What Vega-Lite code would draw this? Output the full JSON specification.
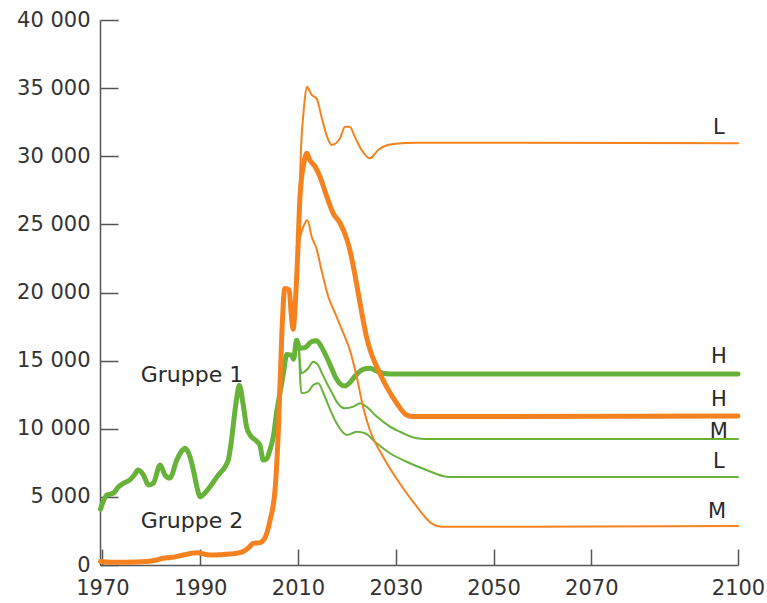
{
  "$schema": "https://vega.github.io/schema/vega-lite/v6.json",
  "width": 638,
  "height": 545,
  "autosize": {"type": "none"},
  "padding": {"left": 100, "top": 20, "right": 29, "bottom": 38},
  "background": "white",
  "config": {
    "view": {"stroke": null},
    "font": "DejaVu Sans",
    "axis": {"domainColor": "#555555", "tickColor": "#555555", "labelColor": "#333333", "labelFont": "DejaVu Sans", "labelFontSize": 21, "grid": false, "title": null, "domainWidth": 1.5, "tickWidth": 1.5}
  },
  "datasets": {
    "lines": [
      {"series": "G1 hist", "year": 1969.6, "value": 4100},
      {"series": "G1 hist", "year": 1970.2, "value": 4700},
      {"series": "G1 hist", "year": 1970.9, "value": 5140},
      {"series": "G1 hist", "year": 1972.2, "value": 5260},
      {"series": "G1 hist", "year": 1973.2, "value": 5700},
      {"series": "G1 hist", "year": 1974.3, "value": 6000},
      {"series": "G1 hist", "year": 1975.6, "value": 6240},
      {"series": "G1 hist", "year": 1976.5, "value": 6600},
      {"series": "G1 hist", "year": 1977.3, "value": 6970},
      {"series": "G1 hist", "year": 1978.4, "value": 6600},
      {"series": "G1 hist", "year": 1979.4, "value": 5870},
      {"series": "G1 hist", "year": 1980.4, "value": 6000},
      {"series": "G1 hist", "year": 1981.8, "value": 7340},
      {"series": "G1 hist", "year": 1982.8, "value": 6600},
      {"series": "G1 hist", "year": 1983.8, "value": 6380},
      {"series": "G1 hist", "year": 1985.2, "value": 7700},
      {"series": "G1 hist", "year": 1986.3, "value": 8400},
      {"series": "G1 hist", "year": 1986.9, "value": 8560},
      {"series": "G1 hist", "year": 1987.9, "value": 7950},
      {"series": "G1 hist", "year": 1988.7, "value": 6800},
      {"series": "G1 hist", "year": 1989.3, "value": 5750},
      {"series": "G1 hist", "year": 1990.0, "value": 5010},
      {"series": "G1 hist", "year": 1991.0, "value": 5300},
      {"series": "G1 hist", "year": 1992.0, "value": 5750},
      {"series": "G1 hist", "year": 1993.7, "value": 6600},
      {"series": "G1 hist", "year": 1995.1, "value": 7220},
      {"series": "G1 hist", "year": 1995.8, "value": 7800},
      {"series": "G1 hist", "year": 1996.4, "value": 9170},
      {"series": "G1 hist", "year": 1997.0, "value": 11000},
      {"series": "G1 hist", "year": 1997.5, "value": 12350},
      {"series": "G1 hist", "year": 1998.0, "value": 13200},
      {"series": "G1 hist", "year": 1998.8, "value": 11740},
      {"series": "G1 hist", "year": 1999.5, "value": 10100},
      {"series": "G1 hist", "year": 2000.2, "value": 9540},
      {"series": "G1 hist", "year": 2001.5, "value": 9100},
      {"series": "G1 hist", "year": 2002.2, "value": 8800},
      {"series": "G1 hist", "year": 2002.9, "value": 7700},
      {"series": "G1 hist", "year": 2003.6, "value": 7800},
      {"series": "G1 hist", "year": 2004.3, "value": 8500},
      {"series": "G1 hist", "year": 2005.0, "value": 9500},
      {"series": "G1 hist", "year": 2005.6, "value": 11130},
      {"series": "G1 hist", "year": 2006.3, "value": 12600},
      {"series": "G1 hist", "year": 2007.0, "value": 14070},
      {"series": "G1 hist", "year": 2007.7, "value": 15450},
      {"series": "G1 hist", "year": 2008.7, "value": 15400},
      {"series": "G1 hist", "year": 2009.1, "value": 15100},
      {"series": "G1 hist", "year": 2009.7, "value": 16500},
      {"series": "G1 hist", "year": 2010.2, "value": 15900},

      {"series": "G1 H", "year": 2010.2, "value": 15900},
      {"series": "G1 H", "year": 2011.4, "value": 15950},
      {"series": "G1 H", "year": 2012.8, "value": 16400},
      {"series": "G1 H", "year": 2013.8, "value": 16450},
      {"series": "G1 H", "year": 2014.8, "value": 16000},
      {"series": "G1 H", "year": 2015.8, "value": 15300},
      {"series": "G1 H", "year": 2016.8, "value": 14500},
      {"series": "G1 H", "year": 2017.8, "value": 13700},
      {"series": "G1 H", "year": 2018.6, "value": 13300},
      {"series": "G1 H", "year": 2019.6, "value": 13140},
      {"series": "G1 H", "year": 2020.5, "value": 13350},
      {"series": "G1 H", "year": 2021.3, "value": 13700},
      {"series": "G1 H", "year": 2022.3, "value": 14100},
      {"series": "G1 H", "year": 2023.3, "value": 14360},
      {"series": "G1 H", "year": 2024.7, "value": 14440},
      {"series": "G1 H", "year": 2026.0, "value": 14250},
      {"series": "G1 H", "year": 2027.4, "value": 14070},
      {"series": "G1 H", "year": 2028.8, "value": 14020},
      {"series": "G1 H", "year": 2100, "value": 14020},

      {"series": "G1 M", "year": 2010.2, "value": 15900},
      {"series": "G1 M", "year": 2010.7, "value": 14070},
      {"series": "G1 M", "year": 2011.4, "value": 14200},
      {"series": "G1 M", "year": 2012.1, "value": 14440},
      {"series": "G1 M", "year": 2013.1, "value": 14920},
      {"series": "G1 M", "year": 2014.1, "value": 14680},
      {"series": "G1 M", "year": 2015.0, "value": 14000},
      {"series": "G1 M", "year": 2015.9, "value": 13340},
      {"series": "G1 M", "year": 2017.0, "value": 12600},
      {"series": "G1 M", "year": 2017.9, "value": 11990},
      {"series": "G1 M", "year": 2019.6, "value": 11500},
      {"series": "G1 M", "year": 2021.3, "value": 11620},
      {"series": "G1 M", "year": 2022.7, "value": 11870},
      {"series": "G1 M", "year": 2024.0, "value": 11620},
      {"series": "G1 M", "year": 2026.1, "value": 10890},
      {"series": "G1 M", "year": 2028.8, "value": 10150},
      {"series": "G1 M", "year": 2031.5, "value": 9670},
      {"series": "G1 M", "year": 2034.3, "value": 9300},
      {"series": "G1 M", "year": 2036.0, "value": 9250},
      {"series": "G1 M", "year": 2100, "value": 9250},

      {"series": "G1 L", "year": 2010.2, "value": 15900},
      {"series": "G1 L", "year": 2010.7, "value": 12600},
      {"series": "G1 L", "year": 2012.1, "value": 12720},
      {"series": "G1 L", "year": 2013.1, "value": 13210},
      {"series": "G1 L", "year": 2014.1, "value": 13340},
      {"series": "G1 L", "year": 2015.5, "value": 12350},
      {"series": "G1 L", "year": 2016.7, "value": 11300},
      {"series": "G1 L", "year": 2017.9, "value": 10400},
      {"series": "G1 L", "year": 2020.0, "value": 9540},
      {"series": "G1 L", "year": 2022.0, "value": 9780},
      {"series": "G1 L", "year": 2023.7, "value": 9670},
      {"series": "G1 L", "year": 2026.1, "value": 8930},
      {"series": "G1 L", "year": 2028.8, "value": 8200},
      {"series": "G1 L", "year": 2032.2, "value": 7580},
      {"series": "G1 L", "year": 2036.3, "value": 6970},
      {"series": "G1 L", "year": 2040.4, "value": 6480},
      {"series": "G1 L", "year": 2042.0, "value": 6460},
      {"series": "G1 L", "year": 2100, "value": 6460},

      {"series": "G2 hist", "year": 1969.6, "value": 250},
      {"series": "G2 hist", "year": 1971.5, "value": 200},
      {"series": "G2 hist", "year": 1975.0, "value": 200},
      {"series": "G2 hist", "year": 1979.0, "value": 250},
      {"series": "G2 hist", "year": 1981.1, "value": 370},
      {"series": "G2 hist", "year": 1982.4, "value": 490},
      {"series": "G2 hist", "year": 1984.0, "value": 550},
      {"series": "G2 hist", "year": 1986.5, "value": 730},
      {"series": "G2 hist", "year": 1989.3, "value": 900},
      {"series": "G2 hist", "year": 1992.0, "value": 730},
      {"series": "G2 hist", "year": 1994.0, "value": 750},
      {"series": "G2 hist", "year": 1996.1, "value": 800},
      {"series": "G2 hist", "year": 1998.8, "value": 980},
      {"series": "G2 hist", "year": 2000.0, "value": 1300},
      {"series": "G2 hist", "year": 2000.8, "value": 1590},
      {"series": "G2 hist", "year": 2002.2, "value": 1640},
      {"series": "G2 hist", "year": 2003.2, "value": 1960},
      {"series": "G2 hist", "year": 2004.3, "value": 3300},
      {"series": "G2 hist", "year": 2005.3, "value": 5500},
      {"series": "G2 hist", "year": 2006.0, "value": 10000},
      {"series": "G2 hist", "year": 2006.7, "value": 17000},
      {"series": "G2 hist", "year": 2007.3, "value": 20300},
      {"series": "G2 hist", "year": 2008.2, "value": 20200},
      {"series": "G2 hist", "year": 2008.6, "value": 18500},
      {"series": "G2 hist", "year": 2009.0, "value": 17300},
      {"series": "G2 hist", "year": 2009.5, "value": 19500},
      {"series": "G2 hist", "year": 2010.0, "value": 23300},

      {"series": "G2 L", "year": 2010.0, "value": 23300},
      {"series": "G2 L", "year": 2010.6, "value": 30500},
      {"series": "G2 L", "year": 2011.2, "value": 33500},
      {"series": "G2 L", "year": 2011.8, "value": 35100},
      {"series": "G2 L", "year": 2012.8, "value": 34500},
      {"series": "G2 L", "year": 2013.8, "value": 34250},
      {"series": "G2 L", "year": 2014.8, "value": 32900},
      {"series": "G2 L", "year": 2016.2, "value": 31200},
      {"series": "G2 L", "year": 2016.9, "value": 30830},
      {"series": "G2 L", "year": 2018.6, "value": 31320},
      {"series": "G2 L", "year": 2019.6, "value": 32170},
      {"series": "G2 L", "year": 2020.6, "value": 32170},
      {"series": "G2 L", "year": 2021.6, "value": 31440},
      {"series": "G2 L", "year": 2023.0, "value": 30460},
      {"series": "G2 L", "year": 2024.7, "value": 29850},
      {"series": "G2 L", "year": 2026.4, "value": 30460},
      {"series": "G2 L", "year": 2027.8, "value": 30750},
      {"series": "G2 L", "year": 2029.5, "value": 30900},
      {"series": "G2 L", "year": 2034.3, "value": 31000},
      {"series": "G2 L", "year": 2100, "value": 30950},

      {"series": "G2 M", "year": 2010.0, "value": 23300},
      {"series": "G2 M", "year": 2010.7, "value": 24400},
      {"series": "G2 M", "year": 2011.4, "value": 25080},
      {"series": "G2 M", "year": 2011.9, "value": 25320},
      {"series": "G2 M", "year": 2012.8, "value": 24100},
      {"series": "G2 M", "year": 2013.8, "value": 23200},
      {"series": "G2 M", "year": 2014.8, "value": 21650},
      {"series": "G2 M", "year": 2016.2, "value": 19690},
      {"series": "G2 M", "year": 2017.6, "value": 18470},
      {"series": "G2 M", "year": 2019.3, "value": 17000},
      {"series": "G2 M", "year": 2020.6, "value": 15780},
      {"series": "G2 M", "year": 2022.0, "value": 13820},
      {"series": "G2 M", "year": 2023.3, "value": 11620},
      {"series": "G2 M", "year": 2024.7, "value": 9910},
      {"series": "G2 M", "year": 2027.4, "value": 7950},
      {"series": "G2 M", "year": 2030.8, "value": 6000},
      {"series": "G2 M", "year": 2034.3, "value": 4280},
      {"series": "G2 M", "year": 2037.3, "value": 3060},
      {"series": "G2 M", "year": 2039.4, "value": 2810},
      {"series": "G2 M", "year": 2100, "value": 2860},

      {"series": "G2 H", "year": 2010.0, "value": 23300},
      {"series": "G2 H", "year": 2010.4, "value": 27000},
      {"series": "G2 H", "year": 2011.2, "value": 29500},
      {"series": "G2 H", "year": 2011.8, "value": 30220},
      {"series": "G2 H", "year": 2012.4, "value": 29730},
      {"series": "G2 H", "year": 2013.5, "value": 29240},
      {"series": "G2 H", "year": 2014.5, "value": 28500},
      {"series": "G2 H", "year": 2015.9, "value": 27030},
      {"series": "G2 H", "year": 2017.2, "value": 25810},
      {"series": "G2 H", "year": 2018.6, "value": 25100},
      {"series": "G2 H", "year": 2020.0, "value": 23900},
      {"series": "G2 H", "year": 2021.0, "value": 22500},
      {"series": "G2 H", "year": 2022.0, "value": 20600},
      {"series": "G2 H", "year": 2023.0, "value": 18600},
      {"series": "G2 H", "year": 2024.0, "value": 16760},
      {"series": "G2 H", "year": 2025.0, "value": 15500},
      {"series": "G2 H", "year": 2026.1, "value": 14560},
      {"series": "G2 H", "year": 2028.1, "value": 13090},
      {"series": "G2 H", "year": 2030.2, "value": 11870},
      {"series": "G2 H", "year": 2032.2, "value": 11010},
      {"series": "G2 H", "year": 2033.6, "value": 10890},
      {"series": "G2 H", "year": 2100, "value": 10940}
    ],
    "labels": [
      {"text": "L", "year": 2096.1, "value": 32080, "kind": "end"},
      {"text": "H", "year": 2096.1, "value": 15270, "kind": "end"},
      {"text": "H", "year": 2096.1, "value": 12110, "kind": "end"},
      {"text": "M", "year": 2096.1, "value": 9760, "kind": "end"},
      {"text": "L", "year": 2096.1, "value": 7560, "kind": "end"},
      {"text": "M", "year": 2095.7, "value": 3890, "kind": "end"},
      {"text": "Gruppe 1", "year": 1988.3, "value": 13950, "kind": "group"},
      {"text": "Gruppe 2", "year": 1988.3, "value": 3230, "kind": "group"}
    ]
  },
  "encoding": {
    "x": {
      "field": "year", "type": "quantitative",
      "scale": {"domain": [1969.5, 2100], "nice": false, "zero": false},
      "axis": {"values": [1970, 1990, 2010, 2030, 2050, 2070, 2100], "format": "d", "tickSize": -16, "labelPadding": 28, "labelFlush": false, "labelOverlap": false}
    },
    "y": {
      "field": "value", "type": "quantitative",
      "scale": {"domain": [0, 40000], "nice": false},
      "axis": {"values": [0, 5000, 10000, 15000, 20000, 25000, 30000, 35000, 40000], "tickSize": -18, "labelPadding": 28, "labelExpr": "replace(format(datum.value, ','), ',', ' ')", "labelFlush": false, "labelOverlap": false}
    }
  },
  "layer": [
    {
      "data": {"name": "lines"},
      "transform": [{"filter": {"field": "series", "oneOf": ["G1 M", "G1 L"]}}],
      "mark": {"type": "line", "interpolate": "monotone", "strokeCap": "round", "strokeJoin": "round", "color": "#67b239", "strokeWidth": 2},
      "encoding": {"detail": {"field": "series"}}
    },
    {
      "data": {"name": "lines"},
      "transform": [{"filter": {"field": "series", "oneOf": ["G1 hist", "G1 H"]}}],
      "mark": {"type": "line", "interpolate": "monotone", "strokeCap": "round", "strokeJoin": "round", "color": "#67b239", "strokeWidth": 5},
      "encoding": {"detail": {"field": "series"}}
    },
    {
      "data": {"name": "lines"},
      "transform": [{"filter": {"field": "series", "oneOf": ["G2 L", "G2 M"]}}],
      "mark": {"type": "line", "interpolate": "monotone", "strokeCap": "round", "strokeJoin": "round", "color": "#f5821f", "strokeWidth": 2},
      "encoding": {"detail": {"field": "series"}}
    },
    {
      "data": {"name": "lines"},
      "transform": [{"filter": {"field": "series", "oneOf": ["G2 hist", "G2 H"]}}],
      "mark": {"type": "line", "interpolate": "monotone", "strokeCap": "round", "strokeJoin": "round", "color": "#f5821f", "strokeWidth": 5},
      "encoding": {"detail": {"field": "series"}}
    },
    {
      "data": {"name": "labels"},
      "transform": [{"filter": {"field": "kind", "equal": "end"}}],
      "mark": {"type": "text", "align": "center", "baseline": "middle", "color": "#2a2a2a", "font": "DejaVu Sans", "fontSize": 21},
      "encoding": {"text": {"field": "text"}}
    },
    {
      "data": {"name": "labels"},
      "transform": [{"filter": {"field": "kind", "equal": "group"}}],
      "mark": {"type": "text", "align": "center", "baseline": "middle", "color": "#2a2a2a", "font": "DejaVu Sans", "fontSize": 22},
      "encoding": {"text": {"field": "text"}}
    }
  ]
}
